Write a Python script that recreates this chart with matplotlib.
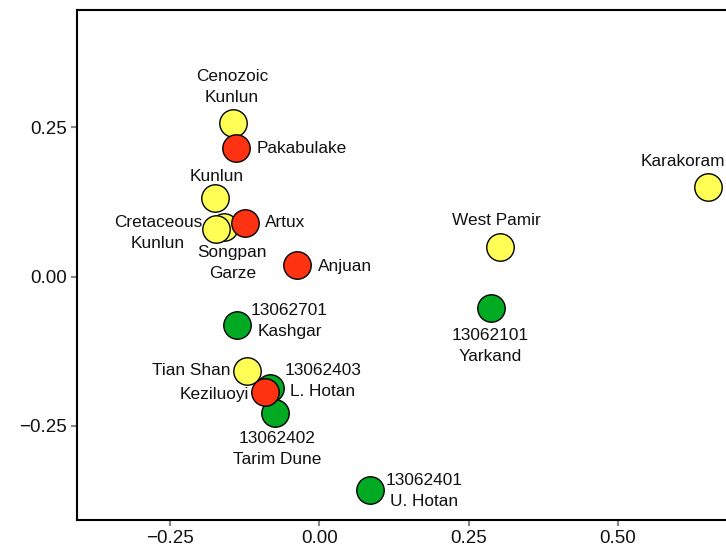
import matplotlib
matplotlib.use("Agg")
import matplotlib.pyplot as plt

plt.rcParams['font.family'] = ['Liberation Sans', 'DejaVu Sans']

labels = ["Cenozoic\nKunlun", "Pakabulake", "Kunlun", "Songpan\nGarze",
          "Cretaceous\nKunlun", "Artux", "Anjuan", "West Pamir", "Karakoram",
          "13062101\nYarkand", "13062701\nKashgar", "Tian Shan",
          "13062403\nL. Hotan", "Keziluoyi", "13062402\nTarim Dune",
          "13062401\nU. Hotan"]
groups = ["yellow", "red", "yellow", "yellow", "yellow", "red", "red", "yellow",
          "yellow", "green", "green", "yellow", "green", "red", "green", "green"]
xs = [-0.1446, -0.1395, -0.175, -0.159, -0.173, -0.124, -0.0374, 0.302,
      0.651, 0.287, -0.137, -0.1206, -0.0826, -0.091, -0.0742, 0.0849]
ys = [0.2575, 0.2156, 0.132, 0.0835, 0.080, 0.0899, 0.0196, 0.049,
      0.151, -0.053, -0.081, -0.1575, -0.187, -0.1926, -0.2288, -0.3573]

xticks = [-0.25, 0.00, 0.25, 0.50]
yticks = [-0.25, 0.00, 0.25]
xticklabels = ["\u22120.25", "0.00", "0.25", "0.50"]
yticklabels = ["\u22120.25", "0.00", "0.25"]

colors = {"yellow": "#FFFF55", "red": "#FF3311", "green": "#00AA22"}
# label offsets in pixels and alignment
offsets = [(-1, 35.5, "center"), (21, -1, "left"), (2, 21, "center"),
           (8, -36.5, "center"), (-58, -4, "center"), (20, 1, "left"),
           (21, -1, "left"), (-3, 27, "center"), (17, 25, "right"),
           (0, -38, "center"), (52, 4, "center"), (-17, 0, "right"),
           (53, 7, "center"), (-16, -3, "right"), (2.5, -36, "center"),
           (54.5, -1, "center")]

fig = plt.figure(figsize=(7.26, 5.5), dpi=100)
ax = fig.add_axes([77/726, 30/550, (780-77)/726, 510/550])
ax.set_xlim(-0.4058, 0.7717)
ax.set_ylim(-0.4075, 0.4467)

for g in ["green", "yellow", "red"]:
    gx = [x for x, gg in zip(xs, groups) if gg == g]
    gy = [y for y, gg in zip(ys, groups) if gg == g]
    ax.scatter(gx, gy, s=390, c=colors[g], edgecolors="black", linewidths=1.0, zorder=3)

for lab, x, y, (dx, dy, ha) in zip(labels, xs, ys, offsets):
    ax.annotate(lab, (x, y), xytext=(dx, dy), textcoords="offset pixels",
                ha=ha, va="center", fontsize=12.4, color="#111111", zorder=4,
                linespacing=1.5, multialignment="center",
                annotation_clip=False)

ax.set_xticks(xticks)
ax.set_xticklabels(xticklabels)
ax.set_yticks(yticks)
ax.set_yticklabels(yticklabels)
ax.tick_params(axis="both", length=4, width=1.5, color="#888888",
               labelsize=13.5, labelcolor="#111111", pad=3)
for sp in ax.spines.values():
    sp.set_linewidth(1.5)
    sp.set_color("black")

fig.savefig("out.png", dpi=100)
